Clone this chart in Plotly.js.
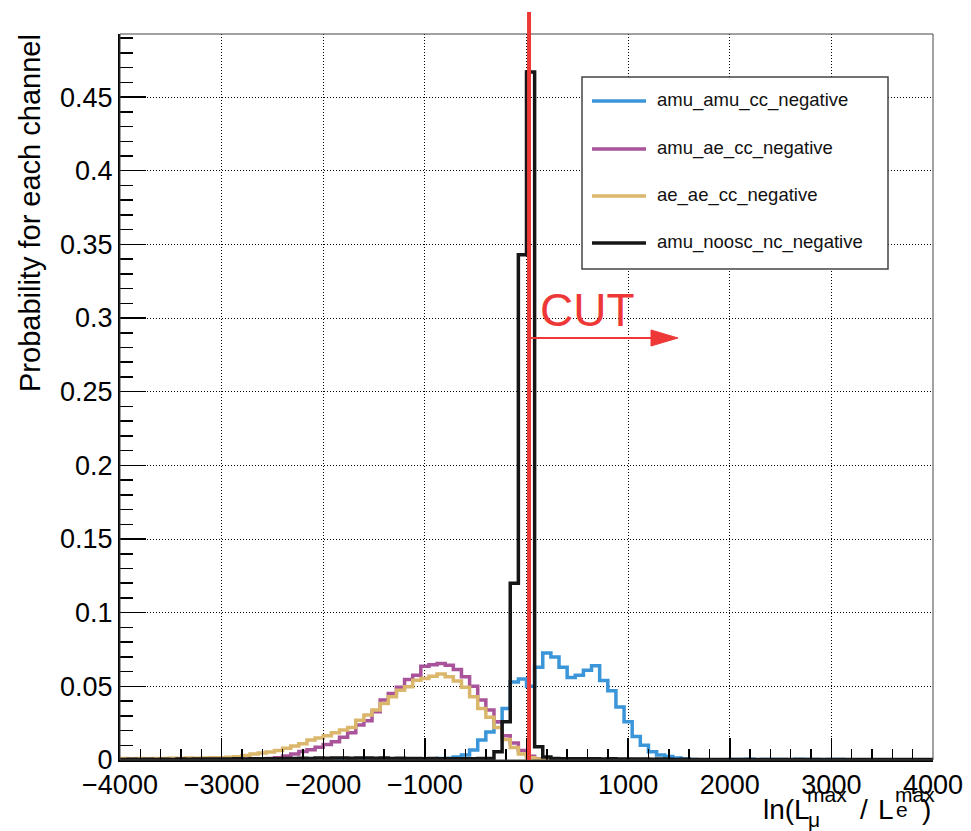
<!DOCTYPE html>
<html>
<head>
<meta charset="utf-8">
<script src="https://cdn.plot.ly/plotly-3.0.1.min.js"></script>
<style>
html,body{margin:0;padding:0;background:#ffffff;}
#chart{width:971px;height:831px;}
</style>
</head>
<body>
<div id="chart"></div>
<script>
// ---------------- data ----------------
// histogram binning: 100 bins of width 80 from -4000 to 4000
const binLow = -4000;
const binWidth = 80;

const seriesNames = ["amu_amu_cc_negative", "amu_ae_cc_negative", "ae_ae_cc_negative", "amu_noosc_nc_negative"];

const amuAmuCC = [
  0,0,0,0,0,0,0,0,0,0,
  0,0,0,0,0,0,0,0,0,0,
  0,0.0003,0,0,0,0,0,0.0006,0.0008,0.0005,
  0.0007,0.0008,0.0004,0.0003,0.0002,0.0003,0.0004,0.0005,0.0008,0.0010,
  0.0012,0.0020,0.0034,0.0068,0.0135,0.0190,0.0260,0.0350,0.0530,0.0550,
  0.0500,0.0630,0.0727,0.0700,0.0630,0.0560,0.0576,0.0610,0.0640,0.0540,
  0.0470,0.0360,0.0260,0.0160,0.0100,0.0056,0.0034,0.0023,0.0014,0.0006,
  0.0003,0.0002,0,0.0002,0,0.0004,0.0003,0.0005,0.0002,0.0004,
  0.0003,0.0004,0.0002,0.0005,0.0003,0.0004,0.0002,0.0004,0.0003,0.0002,
  0,0,0.0002,0,0,0,0,0,0,0
];

const amuAeCC = [
  0.0003,0.0002,0.0003,0.0002,0.0003,0.0003,0.0002,0.0003,0.0003,0.0004,
  0.0003,0.0004,0.0003,0.0004,0.0004,0.0005,0.0006,0.0008,0.0011,0.0016,
  0.0028,0.0040,0.0058,0.0070,0.0086,0.0105,0.0124,0.0154,0.0185,0.0237,
  0.0266,0.0327,0.0407,0.0452,0.0493,0.0547,0.0576,0.0637,0.0646,0.0655,
  0.0644,0.0614,0.0565,0.0501,0.0407,0.0339,0.0260,0.0165,0.0115,0.0065,
  0.0025,0.0008,0.0004,0.0002,0.0002,0.0001,0.0002,0.0001,0.0002,0.0001,
  0.0001,0.0002,0.0001,0.0002,0.0001,0.0002,0.0001,0.0002,0.0001,0.0002,
  0.0001,0.0001,0.0002,0.0001,0.0001,0.0002,0.0001,0.0001,0.0002,0.0001,
  0.0001,0.0002,0.0001,0.0001,0.0002,0.0001,0.0001,0.0001,0.0002,0.0001,
  0.0001,0.0001,0.0001,0.0002,0.0001,0.0001,0.0001,0.0001,0.0001,0.0001
];

const aeAeCC = [
  0.0010,0.0008,0.0010,0.0009,0.0011,0.0010,0.0012,0.0011,0.0013,0.0012,
  0.0014,0.0016,0.0015,0.0018,0.0022,0.0030,0.0040,0.0047,0.0055,0.0065,
  0.0080,0.0095,0.0110,0.0136,0.0150,0.0165,0.0185,0.0203,0.0221,0.0270,
  0.0305,0.0339,0.0384,0.0429,0.0474,0.0497,0.0542,0.0553,0.0569,0.0583,
  0.0565,0.0537,0.0493,0.0429,0.0350,0.0290,0.0220,0.0140,0.0085,0.0040,
  0.0015,0.0006,0.0003,0.0002,0.0001,0.0002,0.0001,0.0002,0.0001,0.0001,
  0.0001,0.0002,0.0001,0.0001,0.0002,0.0001,0.0002,0.0001,0.0001,0.0002,
  0.0001,0.0001,0.0002,0.0001,0.0001,0.0001,0.0002,0.0001,0.0001,0.0002,
  0.0001,0.0001,0.0001,0.0002,0.0001,0.0001,0.0001,0.0001,0.0002,0.0001,
  0.0001,0.0001,0.0001,0.0001,0.0001,0.0001,0.0001,0.0001,0.0001,0.0001
];

const amuNooscNC = [
  0.0004,0.0005,0.0004,0.0005,0.0004,0.0005,0.0004,0.0006,0.0005,0.0006,
  0.0006,0.0007,0.0006,0.0007,0.0008,0.0007,0.0008,0.0009,0.0008,0.0009,
  0.0010,0.0011,0.0012,0.0011,0.0013,0.0012,0.0013,0.0014,0.0012,0.0013,
  0.0014,0.0012,0.0013,0.0011,0.0012,0.0010,0.0011,0.0009,0.0010,0.0009,
  0.0008,0.0009,0.0008,0.0009,0.0010,0.0010,0.0056,0.0260,0.1200,0.3430,
  0.4670,0.0090,0.0020,0.0010,0.0009,0.0008,0.0009,0.0008,0.0009,0.0007,
  0.0008,0.0007,0.0006,0.0007,0.0006,0.0005,0.0006,0.0005,0.0004,0.0005,
  0.0004,0.0003,0.0004,0.0003,0.0004,0.0003,0.0004,0.0003,0.0004,0.0003,
  0.0004,0.0003,0.0004,0.0003,0.0004,0.0003,0.0004,0.0003,0.0004,0.0003,
  0.0004,0.0003,0.0004,0.0003,0.0004,0.0003,0.0004,0.0003,0.0004,0.0003
];

const xTickVals = [-4000, -3000, -2000, -1000, 0, 1000, 2000, 3000, 4000];
const xTickText = ["\u22124000", "\u22123000", "\u22122000", "\u22121000", "0", "1000", "2000", "3000", "4000"];
const yTickVals = [0, 0.05, 0.1, 0.15, 0.2, 0.25, 0.3, 0.35, 0.4, 0.45];
const yTickText = ["0", "0.05", "0.1", "0.15", "0.2", "0.25", "0.3", "0.35", "0.4", "0.45"];

const cutValue = 25;           // position of the cut line on the x axis
const cutLabel = "CUT";

// ---------------- styling ----------------
const colors = ["#3b95d9", "#a9539b", "#dbb76c", "#161616"];
const xRange = [-4000, 4000];
const yRange = [0, 0.4928];
const FONT = "Liberation Sans, Arial, Helvetica, sans-serif";

// plot area in pixels
const W = 971, H = 831;
const M = {l: 120, r: 38, t: 34, b: 71};
const PW = W - M.l - M.r, PH = H - M.t - M.b;
const px2x = p => (p - M.l) / PW;
const px2y = p => (H - M.b - p) / PH;

// ---------------- traces ----------------
const allSeries = [amuAmuCC, amuAeCC, aeAeCC, amuNooscNC];
const nBins = amuAmuCC.length;
const edges = [];
for (let i = 0; i <= nBins; i++) edges.push(binLow + i * binWidth);

const traces = allSeries.map((vals, s) => ({
  type: "scatter",
  mode: "lines",
  name: seriesNames[s],
  x: edges,
  y: vals.concat([vals[vals.length - 1]]),
  line: {shape: "hv", width: 3.5, color: colors[s]},
  hoverinfo: "skip",
  showlegend: false
}));

// minor ticks
const xMinor = [];
for (let v = xRange[0]; v <= xRange[1] + 1e-9; v += 200) xMinor.push(v);
const yMinor = [];
for (let i = 0; i <= 49; i++) yMinor.push(+(i * 0.01).toFixed(2));

// ---------------- shapes & annotations ----------------
const shapes = [];
const annotations = [];

// frame
shapes.push({type: "rect", xref: "paper", yref: "paper", x0: 0, x1: 1, y0: 0, y1: 1,
  line: {color: "#444", width: 1}, fillcolor: "rgba(0,0,0,0)", layer: "above"});

// legend box
const leg = {x0: 582, x1: 888, y0: 77, y1: 269};
shapes.push({type: "rect", xref: "paper", yref: "paper",
  x0: px2x(leg.x0), x1: px2x(leg.x1), y0: px2y(leg.y1), y1: px2y(leg.y0),
  line: {color: "#444", width: 1.5}, fillcolor: "#ffffff", layer: "above"});
const legRows = [101, 149, 196, 243];
seriesNames.forEach((nm, s) => {
  shapes.push({type: "line", xref: "paper", yref: "paper",
    x0: px2x(592), x1: px2x(646), y0: px2y(legRows[s]), y1: px2y(legRows[s]),
    line: {color: colors[s], width: 3.5}, layer: "above"});
  annotations.push({xref: "paper", yref: "paper", x: px2x(655), y: px2y(legRows[s] - 1),
    xanchor: "left", yanchor: "middle", showarrow: false, text: nm,
    font: {family: FONT, size: 18.5, color: "#111"}});
});

// cut line (data position mapped to paper so it can run above the frame)
const cutX = (cutValue - xRange[0]) / (xRange[1] - xRange[0]);
shapes.push({type: "line", xref: "paper", yref: "paper", x0: cutX, x1: cutX, y0: 0, y1: px2y(12),
  line: {color: "#ee3838", width: 4}, layer: "above"});
// arrow
const arrY = px2y(338);
shapes.push({type: "line", xref: "paper", yref: "paper", x0: cutX + 2 / PW, x1: px2x(655), y0: arrY, y1: arrY,
  line: {color: "#ee3838", width: 2}, layer: "above"});
shapes.push({type: "path", xref: "paper", yref: "paper",
  path: `M ${px2x(651)} ${px2y(330)} L ${px2x(678)} ${px2y(338)} L ${px2x(651)} ${px2y(346)} Z`,
  fillcolor: "#ee3838", line: {color: "#ee3838", width: 1}, layer: "above"});
annotations.push({xref: "paper", yref: "paper", x: px2x(538), y: px2y(310), xanchor: "left", yanchor: "middle",
  showarrow: false, text: cutLabel, font: {family: FONT, size: 46, color: "#ee3838"}});

// y axis title (ROOT style, aligned to top of axis)
annotations.push({xref: "paper", yref: "paper", x: px2x(30), y: px2y(32), xanchor: "center", yanchor: "top",
  textangle: -90, showarrow: false, text: "Probability for each channel",
  font: {family: FONT, size: 29, color: "#000"}});

// x axis title: ln(L_mu^max / L_e^max), built with stacked sub/superscripts
const xTitleParts = [
  ["ln(L", 28, 762, 819],
  ["max", 21, 806, 802],
  ["\u03bc", 21, 807, 827],
  ["/", 28, 859, 819],
  ["L", 28, 877, 819],
  ["max", 21, 894, 802],
  ["e", 21, 895, 817],
  [")", 28, 921, 819]
];
xTitleParts.forEach(([t, fs, left, base]) => {
  annotations.push({xref: "paper", yref: "paper", x: px2x(left - 1), y: px2y(base - 0.3465 * fs),
    xanchor: "left", yanchor: "middle", showarrow: false, text: t,
    font: {family: FONT, size: fs, color: "#000"}});
});

// ---------------- layout ----------------
const axisCommon = {
  ticks: "inside", tickwidth: 1.5, tickcolor: "#000",
  showline: true, linewidth: 2, linecolor: "#000",
  showgrid: true, gridcolor: "#000", gridwidth: 1, griddash: "1px,2px",
  zeroline: false, fixedrange: true,
  tickfont: {family: FONT, size: 27, color: "#000"}
};

const layout = {
  width: W, height: H,
  margin: {l: M.l, r: M.r, t: M.t, b: M.b, pad: 0},
  paper_bgcolor: "#ffffff", plot_bgcolor: "#ffffff",
  font: {family: FONT, color: "#000"},
  showlegend: false,
  xaxis: Object.assign({}, axisCommon, {
    range: xRange, tickmode: "array", tickvals: xTickVals, ticktext: xTickText, ticklen: 22,
    minor: {tickmode: "array", tickvals: xMinor, ticks: "inside", ticklen: 11, tickwidth: 1.5, tickcolor: "#000", showgrid: false}
  }),
  yaxis: Object.assign({}, axisCommon, {
    range: yRange, tickmode: "array", tickvals: yTickVals, ticktext: yTickText, ticklen: 26,
    minor: {tickmode: "array", tickvals: yMinor, ticks: "inside", ticklen: 13, tickwidth: 1.5, tickcolor: "#000", showgrid: false}
  }),
  shapes: shapes,
  annotations: annotations
};

Plotly.newPlot("chart", traces, layout, {displayModeBar: false, staticPlot: true});
</script>
</body>
</html>
